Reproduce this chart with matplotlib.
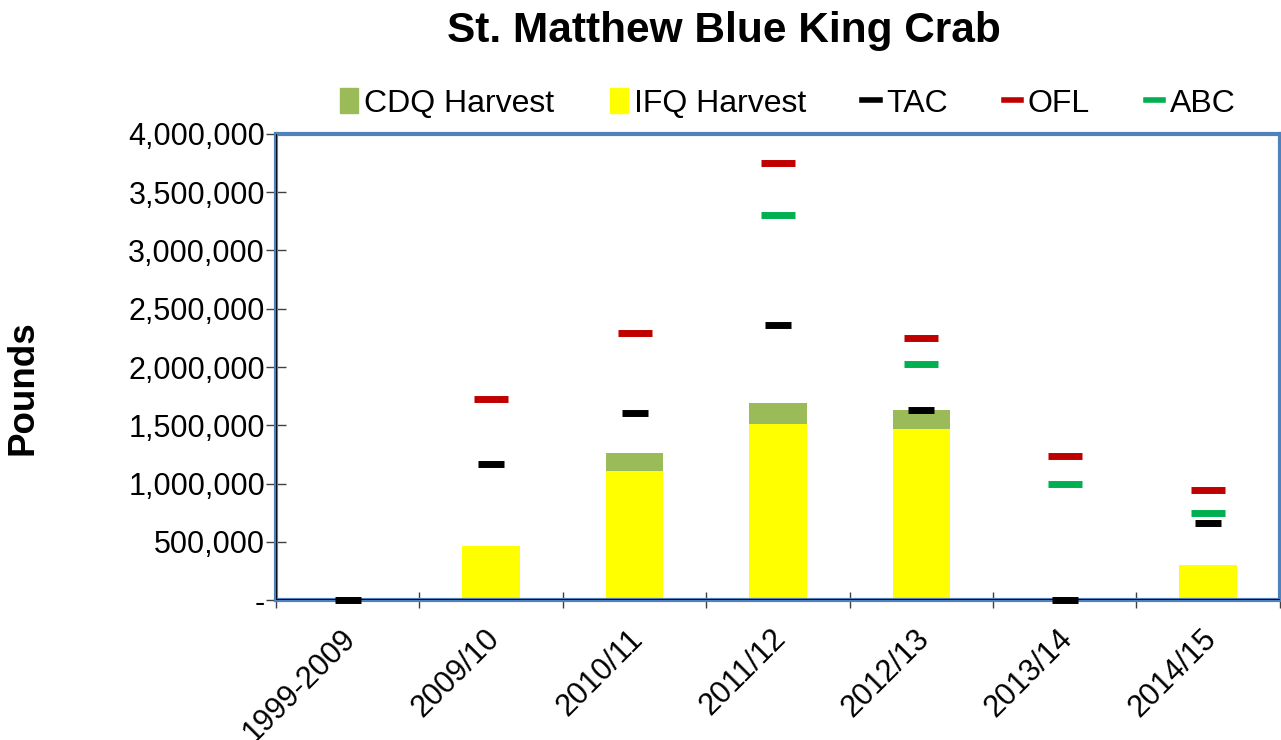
import numpy as np
import matplotlib
matplotlib.use('Agg')
import matplotlib.pyplot as plt
import matplotlib.transforms as mtransforms
from matplotlib.ticker import FuncFormatter
from matplotlib.patches import Patch
from matplotlib.lines import Line2D

plt.rcParams['font.family'] = ['Liberation Sans', 'DejaVu Sans']

# ── Data (pounds) ─────────────────────────────────────────────────────────────
seasons = ['1999-2009', '2009/10', '2010/11', '2011/12', '2012/13', '2013/14', '2014/15']
ifq = [0, 463000, 1107000, 1511000, 1468000, 0, 298000]
cdq = [0, 0, 155000, 180000, 163000, 0, 0]
tac = [0, 1167000, 1605000, 2360000, 1630000, 0, 661000]
ofl = [np.nan, 1725000, 2292000, 3751000, 2249000, 1236000, 944000]
abc = [np.nan, np.nan, np.nan, 3305000, 2026000, 996000, 747000]

# ── Styling ───────────────────────────────────────────────────────────────────
c_ifq = '#FFFF00'; c_cdq = '#9BBB59'
c_tac = '#000000'; c_ofl = '#C00000'; c_abc = '#00B050'
frame = '#4F81BD'

fig = plt.figure(figsize=(12.81, 7.40), dpi=100)
ax = fig.add_axes([0.2155, 0.189, 0.7835, 0.630])

x = np.arange(len(seasons))
w = 0.4
ax.bar(x, ifq, w, color=c_ifq, zorder=2)
ax.bar(x, cdq, w, bottom=ifq, color=c_cdq, zorder=2)
for vals, col, ms in [(ofl, c_ofl, 24), (abc, c_abc, 24), (tac, c_tac, 19)]:
    ax.plot(x, vals, ls='none', marker='_', markersize=ms, markeredgewidth=5,
            color=col, zorder=4, clip_on=False)

ax.set_xlim(-0.5, len(seasons) - 0.5)
ax.set_ylim(0, 4000000)
ax.set_yticks(np.arange(0, 4000001, 500000))
ax.yaxis.set_major_formatter(FuncFormatter(lambda v, p: '-' if v == 0 else f'{v:,.0f}'))
ax.tick_params(axis='y', labelsize=22, direction='inout', length=14, width=1, color='#404040', pad=1)

ax.set_xticks(x)
ax.set_xticklabels(seasons, rotation=45, ha='right', rotation_mode='anchor', fontsize=22)
ax.tick_params(axis='x', length=0, pad=17)
shift = mtransforms.ScaledTranslation(-7 / 100, 0, fig.dpi_scale_trans)
for lab in ax.get_xticklabels():
    lab.set_transform(lab.get_transform() + shift)
ax.set_xticks(np.arange(-0.5, len(seasons)), minor=True)
ax.tick_params(axis='x', which='minor', length=12, width=1, color='#404040', direction='inout')

for s in ax.spines.values():
    s.set_color(frame); s.set_linewidth(3)
ax.axhline(0, color='black', lw=1.3, zorder=3)
ax.axvline(-0.5, color='black', lw=1.3, zorder=3)

ax.set_ylabel('Pounds', fontsize=26.5, fontweight='bold')
ax.yaxis.set_label_coords(-0.235, 0.455)
fig.suptitle('St. Matthew Blue King Crab', fontsize=30.5, fontweight='bold', x=0.565, y=0.985)

handles = [Patch(color=c_cdq), Patch(color=c_ifq),
           Line2D([], [], color=c_tac, lw=4), Line2D([], [], color=c_ofl, lw=4),
           Line2D([], [], color=c_abc, lw=4)]
labels = ['CDQ Harvest', 'IFQ Harvest', 'TAC', 'OFL', 'ABC']
fig.legend(handles, labels, loc='center', bbox_to_anchor=(0.615, 0.860), ncol=5,
           frameon=False, fontsize=23, handlelength=0.55, handleheight=0.8,
           handletextpad=0.2, columnspacing=1.75)

fig.savefig('out.png', dpi=100)
